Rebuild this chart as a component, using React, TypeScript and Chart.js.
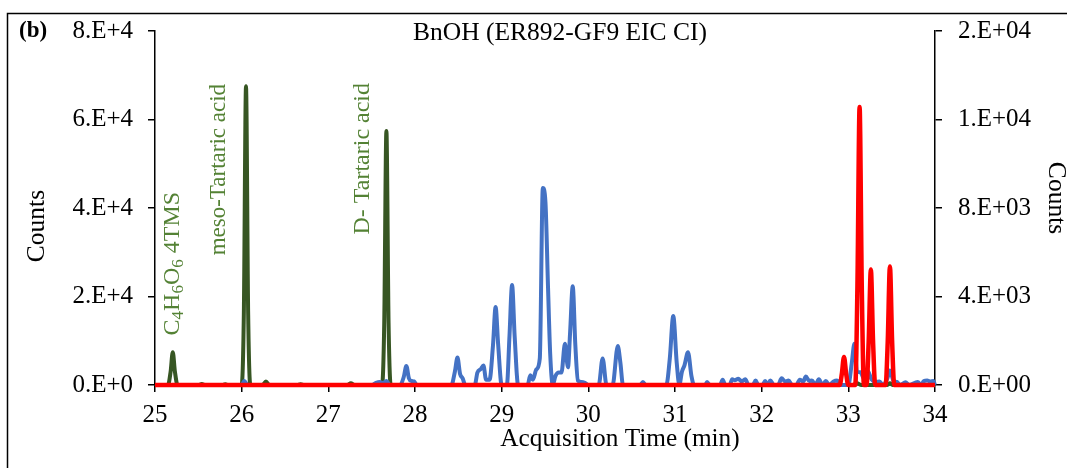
import React, { useEffect, useRef } from 'react';
import { Chart, registerables } from 'chart.js';

Chart.register(...registerables);

const chartTitle = 'BnOH (ER892-GF9 EIC CI)';
const panelLabel = '(b)';
const xAxisTitle = 'Acquisition Time (min)';
const leftAxisTitle = 'Counts';
const rightAxisTitle = 'Counts';

const leftTickLabels = ['0.E+0', '2.E+4', '4.E+4', '6.E+4', '8.E+4'];
const rightTickLabels = ['0.E+00', '4.E+03', '8.E+03', '1.E+04', '2.E+04'];

// Dark green trace (left axis)
const greenTime = [25.0, 25.15, 25.18, 25.205, 25.23, 25.26, 25.5, 25.54, 25.58, 25.78, 25.81, 25.84, 26.0, 26.025, 26.05, 26.075, 26.1, 26.24, 26.28, 26.32, 26.64, 26.68, 26.72, 27.22, 27.26, 27.3, 27.62, 27.645, 27.67, 27.695, 27.72, 33.05, 33.1, 33.15, 33.45, 33.48, 33.51, 34.0];
const greenCounts = [0, 0, 3000, 7400, 3000, 0, 0, 200, 0, 0, 150, 0, 0, 16000, 67500, 16000, 0, 0, 800, 0, 0, 150, 0, 0, 400, 0, 0, 14000, 57400, 14000, 0, 0, 400, 0, 0, 400, 0, 0];

// Blue trace (left axis)
const blueTime = [25.0, 26.0, 26.03, 26.07, 27.5, 27.55, 27.59, 27.63, 27.67, 27.71, 27.83, 27.87, 27.9, 27.93, 27.96, 27.99, 28.02, 28.42, 28.46, 28.49, 28.52, 28.55, 28.58, 28.69, 28.72, 28.76, 28.79, 28.82, 28.86, 28.9, 28.93, 28.96, 29.0, 29.06, 29.09, 29.12, 29.15, 29.19, 29.3, 29.33, 29.36, 29.4, 29.44, 29.475, 29.505, 29.535, 29.56, 29.59, 29.62, 29.66, 29.69, 29.73, 29.765, 29.79, 29.82, 29.85, 29.88, 29.92, 29.96, 30.0, 30.12, 30.165, 30.21, 30.28, 30.34, 30.37, 30.4, 30.6, 30.63, 30.66, 30.9, 30.94, 30.98, 31.02, 31.05, 31.08, 31.11, 31.15, 31.19, 31.22, 31.35, 31.37, 31.4, 31.52, 31.55, 31.58, 31.63, 31.66, 31.69, 31.73, 31.77, 31.81, 31.85, 31.9, 31.93, 31.96, 32.01, 32.04, 32.07, 32.1, 32.14, 32.19, 32.23, 32.27, 32.31, 32.35, 32.4, 32.44, 32.48, 32.51, 32.55, 32.58, 32.62, 32.66, 32.7, 32.74, 32.78, 32.83, 32.87, 32.91, 33.0, 33.04, 33.07, 33.1, 33.14, 33.18, 33.22, 33.27, 33.31, 33.36, 33.4, 33.45, 33.48, 33.52, 33.56, 33.6, 33.66, 33.7, 33.8, 33.84, 33.87, 33.91, 33.95, 33.98, 34.0];
const blueCounts = [0, 0, 900, 0, 0, 500, 700, 400, 900, 0, 0, 1800, 4300, 1500, 900, 800, 0, 0, 3000, 6200, 2500, 1500, 0, 0, 2800, 3600, 4400, 1200, 1200, 9000, 17600, 9000, 0, 0, 11000, 22600, 11000, 0, 0, 2200, 1200, 3500, 6000, 44500, 41400, 22000, 7000, 0, 2000, 2800, 2800, 9300, 4000, 12000, 22300, 9000, 1000, 700, 500, 0, 0, 6000, 0, 0, 8800, 5000, 0, 0, 700, 0, 0, 6000, 15600, 5000, 0, 3000, 4500, 7400, 2000, 0, 0, 700, 0, 0, 1200, 0, 0, 1300, 1100, 1400, 800, 1300, 0, 0, 1000, 0, 0, 900, 0, 1000, 0, 0, 1500, 800, 1000, 0, 0, 1200, 800, 1900, 900, 1000, 0, 1300, 0, 900, 0, 800, 1000, 0, 0, 5000, 9300, 3000, 2900, 1500, 3300, 1200, 700, 800, 0, 1500, 3300, 1000, 700, 0, 600, 0, 700, 0, 900, 1000, 800, 900, 0];

// Red trace (right axis)
const redTime = [25.0, 32.9, 32.925, 32.95, 32.975, 33.0, 33.08, 33.105, 33.13, 33.155, 33.18, 33.21, 33.235, 33.26, 33.285, 33.31, 33.43, 33.455, 33.48, 33.505, 33.53, 34.0];
const redCounts = [0, 0, 500, 1270, 500, 0, 0, 4500, 12560, 4500, 0, 0, 2000, 5220, 2000, 0, 0, 2000, 5360, 2000, 0, 0];

const SERIF = '"Liberation Serif", "Times New Roman", serif';
const TICK_FS = 25;
const TITLE_FS = 25.5;
const XTITLE_FS = 25.3;

const toPoints = (xs: number[], ys: number[]) => xs.map((x, i) => ({ x, y: ys[i] }));

const decorPlugin = {
  id: 'decor',
  afterDraw(chart: any) {
    const ctx = chart.ctx as CanvasRenderingContext2D;
    const xs = chart.scales.x;
    const ys = chart.scales.y;
    ctx.save();
    // outer frame
    ctx.strokeStyle = '#000';
    ctx.lineWidth = 1.5;
    ctx.strokeRect(7.5, 13.5, 1100, 500);
    // title
    ctx.fillStyle = '#000';
    ctx.textBaseline = 'middle';
    ctx.textAlign = 'center';
    ctx.font = `${TITLE_FS}px ${SERIF}`;
    ctx.fillText(chartTitle, 560, 33);
    ctx.textAlign = 'left';
    ctx.font = `bold 23px ${SERIF}`;
    ctx.fillText(panelLabel, 19, 31);

    // axis titles
    ctx.textAlign = 'center';
    ctx.font = `${XTITLE_FS}px ${SERIF}`;
    ctx.fillText(xAxisTitle, 620, 439);
    ctx.font = `${TITLE_FS}px ${SERIF}`;
    ctx.save();
    ctx.translate(37, 226);
    ctx.rotate(-Math.PI / 2);
    ctx.fillText(leftAxisTitle, 0, 0);
    ctx.restore();
    ctx.save();
    ctx.translate(1056, 198);
    ctx.rotate(Math.PI / 2);
    ctx.fillText(rightAxisTitle, 0, 0);
    ctx.restore();

    // rotated annotations
    const green = '#548235';
    const drawRot = (t: number, c: number, fs: number, parts: { s: string; sub?: boolean }[]) => {
      const px = xs.getPixelForValue(t);
      const py = ys.getPixelForValue(c);
      ctx.save();
      ctx.translate(px, py);
      ctx.rotate(-Math.PI / 2);
      ctx.fillStyle = green;
      ctx.textAlign = 'left';
      ctx.textBaseline = 'middle';
      let off = 0;
      for (const p of parts) {
        ctx.font = p.sub ? `${Math.round(fs * 0.72)}px ${SERIF}` : `${fs}px ${SERIF}`;
        ctx.fillText(p.s, off, p.sub ? 5 : 0);
        off += ctx.measureText(p.s).width;
      }
      ctx.restore();
    };
    drawRot(25.21, 11200, 24, [
      { s: 'C' }, { s: '4', sub: true }, { s: 'H' }, { s: '6', sub: true }, { s: 'O' }, { s: '6', sub: true }, { s: ' 4TMS' },
    ]);
    drawRot(25.74, 29300, 23, [{ s: 'meso-Tartaric acid' }]);
    drawRot(27.4, 34000, 24, [{ s: 'D- Tartaric acid' }]);
    ctx.restore();
  },
};

export default function App() {
  const ref = useRef<HTMLCanvasElement | null>(null);
  useEffect(() => {
    document.body.style.margin = '0';
    const canvas = ref.current;
    if (!canvas) return;
    const tickFont = { family: SERIF, size: TICK_FS };
    const chart = new Chart(canvas, {
      type: 'line',
      data: {
        datasets: [
          {
            label: 'red',
            data: toPoints(redTime, redCounts),
            yAxisID: 'y2',
            borderColor: '#FF0000',
            borderWidth: 4.5,
            pointRadius: 0,
            cubicInterpolationMode: 'monotone',
            order: 0,
            clip: false as any,
          },
          {
            label: 'blue',
            data: toPoints(blueTime, blueCounts),
            yAxisID: 'y',
            borderColor: '#4472C4',
            borderWidth: 4,
            pointRadius: 0,
            cubicInterpolationMode: 'monotone',
            order: 1,
            clip: false as any,
          },
          {
            label: 'green',
            data: toPoints(greenTime, greenCounts),
            yAxisID: 'y',
            borderColor: '#375623',
            borderWidth: 4,
            pointRadius: 0,
            cubicInterpolationMode: 'monotone',
            order: 2,
            clip: false as any,
          },
        ],
      },
      options: {
        responsive: false,
        devicePixelRatio: 1,
        animation: false,
        layout: { padding: { top: 27, left: 0, right: 0, bottom: 0 } },
        plugins: { legend: { display: false }, tooltip: { enabled: false } },
        scales: {
          x: {
            type: 'linear',
            min: 25,
            max: 34,
            ticks: { stepSize: 1, font: tickFont, color: '#000', padding: 8, maxRotation: 0 },
            grid: { drawOnChartArea: false, drawTicks: true, tickLength: 7, color: '#000', lineWidth: 1.5 },
            border: { color: '#000', width: 1.5 },
            afterFit: (s: any) => { s.height = 83; },
          },
          y: {
            position: 'left',
            min: 0,
            max: 80000,
            ticks: { stepSize: 20000, font: tickFont, color: '#000', padding: 15, callback: (_v: any, i: number) => leftTickLabels[i] },
            grid: { drawOnChartArea: false, drawTicks: true, tickLength: 7, color: '#000', lineWidth: 1.5 },
            border: { color: '#000', width: 1.5 },
            afterFit: (s: any) => { s.width = 155; },
          },
          y2: {
            position: 'right',
            min: 0,
            max: 16000,
            ticks: { stepSize: 4000, font: tickFont, color: '#000', padding: 16, callback: (_v: any, i: number) => rightTickLabels[i] },
            grid: { drawOnChartArea: false, drawTicks: true, tickLength: 7, color: '#000', lineWidth: 1.5 },
            border: { color: '#000', width: 1.5 },
            afterFit: (s: any) => { s.width = 132; },
          },
        },
      },
      plugins: [decorPlugin],
    } as any);
    return () => chart.destroy();
  }, []);
  return (
    <div style={{ width: 1067, height: 468 }}>
      <canvas ref={ref} width={1067} height={468} style={{ display: 'block' }} />
    </div>
  );
}
